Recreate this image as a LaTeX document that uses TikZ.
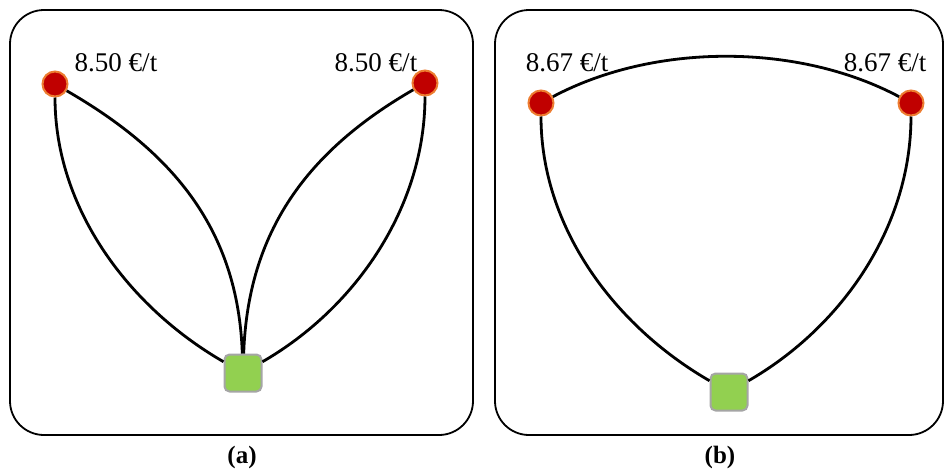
\documentclass[tikz,border=0pt]{standalone}
\usepackage{fontspec}
\setmainfont{Liberation Serif}
\usepackage{xcolor}
\usetikzlibrary{arrows.meta, positioning}
\definecolor{plantred}{RGB}{192,0,0}
\definecolor{plantrim}{RGB}{237,125,49}
\definecolor{hubgreen}{RGB}{146,208,80}
\definecolor{hubrim}{RGB}{165,165,165}

\begin{document}
\begin{tikzpicture}[x=0.5pt, y=-0.5pt,
        panel/.style={draw, line width=0.9pt, rounded corners=17pt},
        plant/.style={circle, draw=plantrim, fill=plantred, line width=1pt, minimum size=12.5pt, inner sep=0pt},
        hub/.style={rectangle, draw=hubrim, fill=hubgreen, line width=1pt, rounded corners=2.5pt, minimum size=18.5pt, inner sep=0pt},
        price/.style={font=\fontsize{13.5}{16}\selectfont},
        caption/.style={font=\fontsize{12.5}{15}\selectfont\bfseries},
        link/.style={line width=1.4pt}]
        \useasboundingbox (0,0) rectangle (950,472);
        % panel (a)
        \draw[panel] (10,10) rectangle (473,435);
        \node[plant] (A1) at (55,84) {};
        \node[plant] (A2) at (425,83) {};
        \node[hub] (AH) at (243,373) {};
        \node[price] (PA1) at (116,63) {8.50 €/t};
        \node[price] (PA2) at (376,63) {8.50 €/t};
        \draw[link] (A1) to[out=-90, in=150, looseness=0.9] (AH);
        \draw[link] (A1) to[out=-30, in=92, looseness=1.0] (AH);
        \draw[link] (A2) to[out=-90, in=30, looseness=0.9] (AH);
        \draw[link] (A2) to[out=-150, in=88, looseness=1.0] (AH);
        \node[caption] (CA) at (242,457) {(a)};
        % panel (b)
        \draw[panel] (495,10) rectangle (943,435);
        \node[plant] (B1) at (541,103) {};
        \node[plant] (B2) at (911,103) {};
        \node[hub] (BH) at (729,392) {};
        \node[price] (PB1) at (567,63) {8.67 €/t};
        \node[price] (PB2) at (885,63) {8.67 €/t};
        \draw[link] (B1) to[out=28, in=152, looseness=0.85] (B2);
        \draw[link] (B1) to[out=-90, in=150, looseness=0.9] (BH);
        \draw[link] (B2) to[out=-90, in=30, looseness=0.9] (BH);
        \node[caption] (CB) at (720,457) {(b)};
    \end{tikzpicture}
\end{document}
